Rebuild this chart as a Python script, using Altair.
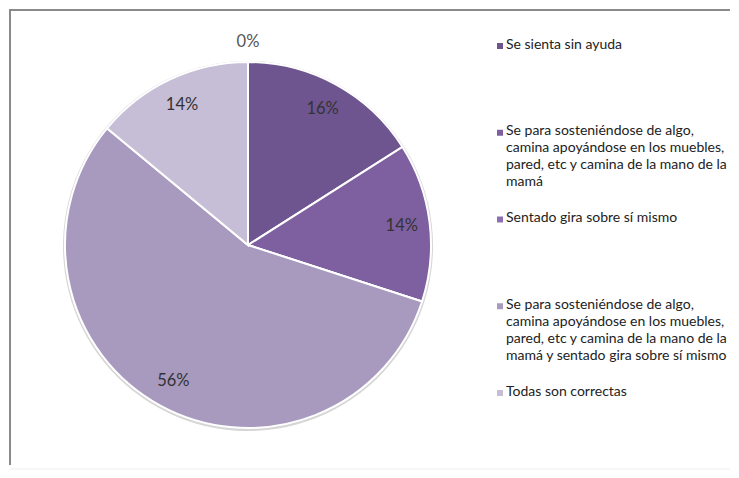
import altair as alt
import pandas as pd

categories = [
    "Se sienta sin ayuda",
    "Se para sosteniéndose de algo, camina apoyándose en los muebles, pared, etc y camina de la mano de la mamá",
    "Sentado gira sobre sí mismo",
    "Se para sosteniéndose de algo, camina apoyándose en los muebles, pared, etc y camina de la mano de la mamá y sentado gira sobre sí mismo",
    "Todas son correctas",
]
legend_text = [
    "Se sienta sin ayuda",
    "Se para sosteniéndose de algo,|camina apoyándose en los muebles,|pared, etc y camina de la mano de la|mamá",
    "Sentado gira sobre sí mismo",
    "Se para sosteniéndose de algo,|camina apoyándose en los muebles,|pared, etc y camina de la mano de la|mamá y sentado gira sobre sí mismo",
    "Todas son correctas",
]
values = [16, 14, 0, 56, 14]
colors = ["#6f5590", "#7e60a1", "#8d70b3", "#a899bf", "#c6bdd7"]

df = pd.DataFrame({
    "idx": list(range(len(categories))),
    "cat": categories,
    "legend": legend_text,
    "value": values,
    "label": [f"{v}%" for v in values],
})

W, H = 720, 455
CX, CY, R = 238, 235, 183

color = alt.Color("cat:N", scale=alt.Scale(domain=categories, range=colors), legend=None)
theta = alt.Theta("value:Q", stack=True)
order = alt.Order("idx:Q")

base = alt.Chart(df)

rim = base.mark_arc(outerRadius=R + 2, color="#d6d6d6").encode(
    theta=theta, order=order, x=alt.value(CX), y=alt.value(CY + 1)
)
pie = base.mark_arc(outerRadius=R, stroke="white", strokeWidth=2).encode(
    theta=theta, color=color, order=order, x=alt.value(CX), y=alt.value(CY)
)
labels = base.transform_filter("datum.value > 0").mark_text(
    radius=155, font="Lato", fontSize=16.5, color="#333333"
).encode(
    theta=theta, order=order, text="label:N", x=alt.value(CX), y=alt.value(CY)
)
zero_label = base.transform_filter("datum.value == 0").mark_text(
    font="Lato", fontSize=16.5, color="#555555"
).encode(
    theta=alt.value(0), radius=alt.value(203), text="label:N",
    x=alt.value(CX), y=alt.value(CY)
)

yleg = alt.Y("cat:N", sort=categories,
             scale=alt.Scale(type="point", range=[36, 383], padding=0), axis=None)
leg_sq = base.mark_square(size=36, opacity=1).encode(
    x=alt.value(490), y=yleg, color=color
)
leg_txt = base.mark_text(
    align="left", baseline="top", dy=-8.5, lineBreak="|", lineHeight=17,
    font="Lato", fontSize=14, color="#222222"
).encode(x=alt.value(496), y=yleg, text="legend:N")

frame_df = pd.DataFrame({"k": [0]})
left_line = alt.Chart(frame_df).mark_rule(color="#8a8a8a", strokeWidth=2).encode(
    x=alt.value(0), y=alt.value(-1), y2=alt.value(H)
)
top_line = alt.Chart(frame_df).mark_rule(color="#8a8a8a", strokeWidth=2).encode(
    x=alt.value(-1), x2=alt.value(W), y=alt.value(0)
)
bottom_line = alt.Chart(frame_df).mark_rule(color="#eeeeee", strokeWidth=1).encode(
    x=alt.value(0), x2=alt.value(W), y=alt.value(459)
)

chart = alt.layer(
    left_line, top_line, bottom_line, rim, pie, labels, zero_label, leg_sq, leg_txt
).properties(
    width=W, height=H, padding=0, background="white"
).configure_view(stroke=None)

chart.save("out.html", embed_options={"renderer": "svg", "actions": False})
